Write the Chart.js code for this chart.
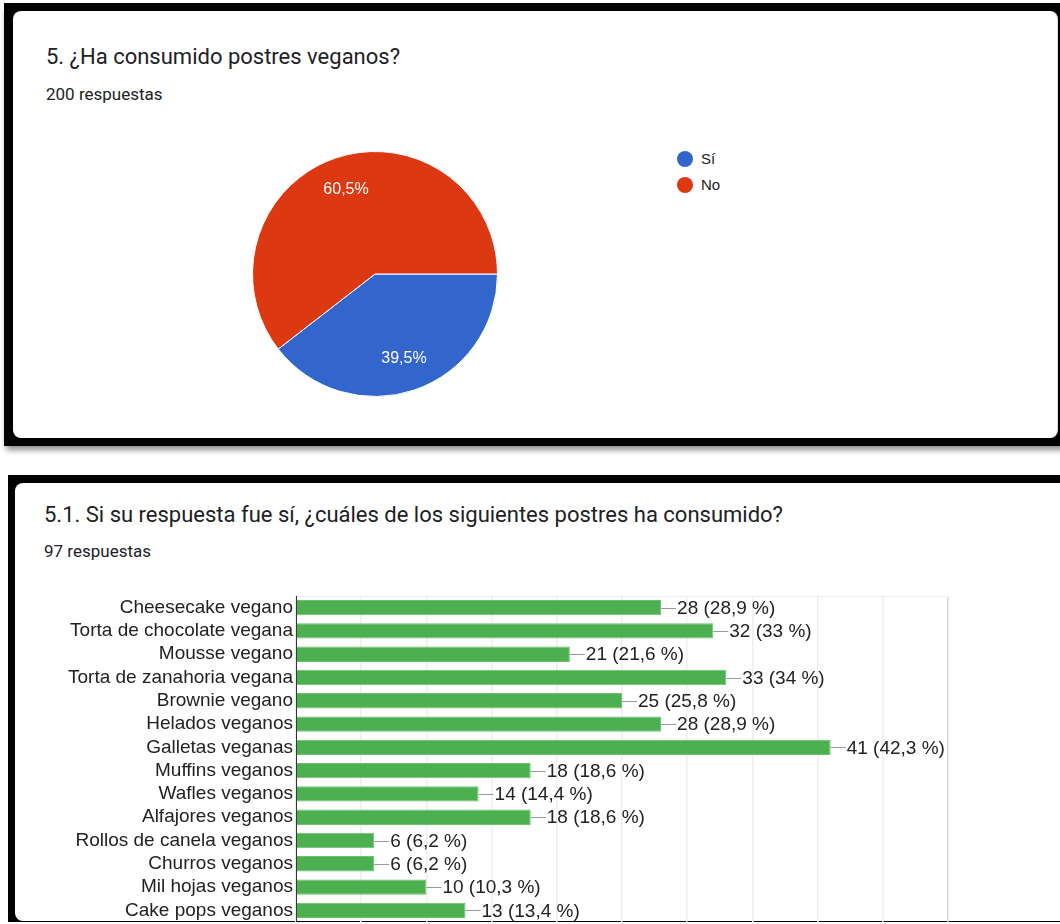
<!DOCTYPE html>
<html>
<head>
<meta charset="utf-8">
<script src="https://cdn.jsdelivr.net/npm/chart.js@4.4.1/dist/chart.umd.min.js"></script>
<style>
  html, body { margin: 0; padding: 0; background: #fff; }
  body { width: 1060px; height: 924px; position: relative; overflow: hidden; font-family: Roboto, Arial, sans-serif; }
  .frame { position: absolute; background: #000; }
  .card { position: absolute; background: #fff; border-radius: 8px; }
  .title { position: absolute; color: #202124; font-size: 22px; white-space: nowrap; }
  .count { position: absolute; color: #202124; font-size: 17px; white-space: nowrap; }
  canvas { position: absolute; }
  #legend { position: absolute; left: 677px; top: 149px; font-family: Arial, "Liberation Sans", sans-serif; font-size: 15px; color: #222; }
  #legend div { height: 26px; line-height: 20px; position: relative; padding-left: 24px; }
  #legend span { position: absolute; left: 0; top: 2px; width: 16px; height: 16px; border-radius: 50%; }
</style>
</head>
<body>
<div class="frame" style="left:4px;top:3px;width:1080px;height:443px;box-shadow:0 6px 6px -2px rgba(0,0,0,0.45);"></div>
<div class="card" style="left:13px;top:11px;width:1044px;height:427px;border-right:1px solid #ddd;"></div>
<div class="title" style="left:46px;top:44px;">5. ¿Ha consumido postres veganos?</div>
<div class="count" style="left:46px;top:84px;">200 respuestas</div>
<canvas id="pie" width="246" height="246" style="left:252px;top:151px;width:246px;height:246px;"></canvas>
<div id="legend"></div>

<div class="frame" style="left:8px;top:475px;width:1080px;height:447px;"></div>
<div class="card" style="left:15px;top:483px;width:1060px;height:438px;"></div>
<div class="title" style="left:44px;top:502px;">5.1. Si su respuesta fue sí, ¿cuáles de los siguientes postres ha consumido?</div>
<div class="count" style="left:44px;top:541px;">97 respuestas</div>
<canvas id="bars" width="1060" height="336" style="left:0;top:586px;width:1060px;height:336px;"></canvas>

<script>
// pregunta 5
const pieLabels = ['Sí', 'No'];
const pieValues = [39.5, 60.5];
const pieColors = ['#3366cc', '#dc3912'];

// pregunta 5.1
const dessertLabels = [
  'Cheesecake vegano', 'Torta de chocolate vegana', 'Mousse vegano',
  'Torta de zanahoria vegana', 'Brownie vegano', 'Helados veganos',
  'Galletas veganas', 'Muffins veganos', 'Wafles veganos',
  'Alfajores veganos', 'Rollos de canela veganos', 'Churros veganos',
  'Mil hojas veganos', 'Cake pops veganos'
];
const dessertCounts = [28, 32, 21, 33, 25, 28, 41, 18, 14, 18, 6, 6, 10, 13];
const dessertPercents = ['28,9', '33', '21,6', '34', '25,8', '28,9', '42,3', '18,6', '14,4', '18,6', '6,2', '6,2', '10,3', '13,4'];
const xTicks = { min: 0, max: 50, step: 5 };

const chartFont = 'Arial, "Liberation Sans", sans-serif';

// leyenda de la torta
const legend = document.getElementById('legend');
pieLabels.forEach((l, i) => {
  const row = document.createElement('div');
  row.innerHTML = '<span style="background:' + pieColors[i] + '"></span>' + l;
  legend.appendChild(row);
});

// porcentajes dentro de cada porcion
const sliceLabels = {
  id: 'sliceLabels',
  afterDatasetsDraw(chart) {
    const ctx = chart.ctx;
    const meta = chart.getDatasetMeta(0);
    ctx.save();
    ctx.font = '16px ' + chartFont;
    ctx.fillStyle = '#fff';
    ctx.textAlign = 'center';
    ctx.textBaseline = 'middle';
    meta.data.forEach((arc, i) => {
      const p = arc.getProps(['x', 'y', 'startAngle', 'endAngle', 'outerRadius']);
      const mid = (p.startAngle + p.endAngle) / 2;
      const r = p.outerRadius * 0.73;
      const txt = pieValues[i].toFixed(1).replace('.', ',') + '%';
      ctx.fillText(txt, p.x + Math.cos(mid) * r, p.y + Math.sin(mid) * r);
    });
    ctx.restore();
  }
};

new Chart(document.getElementById('pie'), {
  type: 'pie',
  data: {
    labels: pieLabels,
    datasets: [{
      data: pieValues,
      backgroundColor: pieColors,
      borderColor: '#fff',
      borderWidth: 1
    }]
  },
  options: {
    responsive: false,
    animation: false,
    rotation: 90,
    layout: { padding: 0 },
    plugins: { legend: { display: false }, tooltip: { enabled: false } }
  },
  plugins: [sliceLabels]
});

// etiqueta "—28 (28,9 %)" al final de cada barra
const barLabels = {
  id: 'barLabels',
  afterDatasetsDraw(chart) {
    const ctx = chart.ctx;
    const meta = chart.getDatasetMeta(0);
    ctx.save();
    ctx.font = '19px ' + chartFont;
    ctx.textBaseline = 'middle';
    meta.data.forEach((bar, i) => {
      const y = Math.round(bar.y) + 0.5;
      ctx.strokeStyle = '#999';
      ctx.lineWidth = 1;
      ctx.beginPath();
      ctx.moveTo(bar.x, y);
      ctx.lineTo(bar.x + 15, y);
      ctx.stroke();
      ctx.fillStyle = '#222';
      ctx.fillText(dessertCounts[i] + ' (' + dessertPercents[i] + ' %)', bar.x + 16, bar.y + 1);
    });
    ctx.restore();
  }
};

new Chart(document.getElementById('bars'), {
  type: 'bar',
  data: {
    labels: dessertLabels,
    datasets: [{
      data: dessertCounts,
      backgroundColor: '#4caf50',
      borderColor: '#6cc070',
      borderWidth: 1,
      barPercentage: 0.66,
      categoryPercentage: 1
    }]
  },
  options: {
    indexAxis: 'y',
    responsive: false,
    animation: false,
    layout: { padding: { left: 0, right: 112, top: 10, bottom: 0 } },
    scales: {
      x: {
        min: xTicks.min,
        max: xTicks.max,
        afterFit: s => { s.height = 0; },
        ticks: { display: false, stepSize: xTicks.step },
        grid: {
          drawTicks: false,
          lineWidth: 1.5,
          color: c => c.index === 10 ? '#d8d8d8' : '#eeeeee'
        },
        border: { display: false }
      },
      y: {
        // ancho fijo del eje y sin margen extra arriba/abajo por las etiquetas
        afterFit: s => { s.width = 296; s.paddingTop = 0; s.paddingBottom = 0; },
        ticks: { autoSkip: false, padding: 3, color: '#222', font: { family: chartFont, size: 19 } },
        grid: {
          drawTicks: false,
          color: c => c.index === 0 ? '#eeeeee' : 'rgba(0,0,0,0)'
        },
        border: { display: true, color: '#333', width: 1 }
      }
    },
    plugins: { legend: { display: false }, tooltip: { enabled: false } }
  },
  plugins: [barLabels]
});
</script>
</body>
</html>
